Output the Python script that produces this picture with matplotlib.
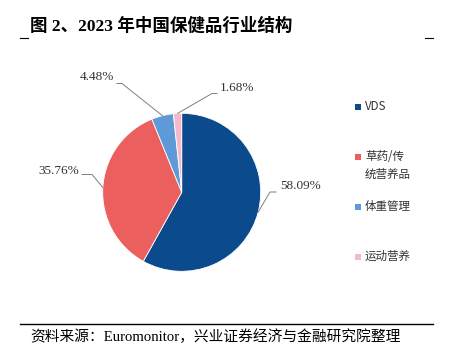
import matplotlib
matplotlib.use("Agg")
import matplotlib.pyplot as plt
from matplotlib.patches import Rectangle
import numpy as np

plt.rcParams['font.family'] = ['Noto Sans CJK SC', 'DejaVu Sans']

# data
labels = ["VDS", "草药/传\n统营养品", "体重管理", "运动营养"]
values = [58.09, 35.76, 4.48, 1.68]
pct_text = ["58.09%", "35.76%", "4.48%", "1.68%"]
colors = ["#0B4A8C", "#EC5F5F", "#5E9AD8", "#F6B8CA"]

W, H = 455, 357
fig = plt.figure(figsize=(W / 100, H / 100), dpi=100)

# pie axes placed in pixel terms
cx, cy, R = 181.7, 192.3, 79.0
ax = fig.add_axes([(cx - R) / W, (H - cy - R) / H, 2 * R / W, 2 * R / H])
wedges, _ = ax.pie(values, colors=colors, startangle=90, counterclock=False,
                   radius=1.0, wedgeprops=dict(edgecolor="white", linewidth=0.6))
ax.set_xlim(-1, 1)
ax.set_ylim(-1, 1)
ax.set_aspect("equal")
ax.axis("off")


def px(x, y):
    # pixel -> data coords of the pie axes
    return (x - cx) / R, (cy - y) / R


# elbow point and text anchor (pixels) for each label
elbows = [(270, 192), (92, 174.5), (122, 83.5), (212, 93.5)]
ends = [(276, 192), (82, 174.5), (117, 83.5), (217, 93.5)]
text_pos = [(280, 186), (79, 171), (114, 77), (220, 88)]
aligns = ["left", "right", "right", "left"]

for i, w in enumerate(wedges):
    ang = np.deg2rad((w.theta1 + w.theta2) / 2)
    x0, y0 = np.cos(ang), np.sin(ang)
    ex, ey = px(*elbows[i])
    fx, fy = px(*ends[i])
    ax.plot([x0, ex, fx], [y0, ey, fy], color="#7f7f7f", lw=0.7, clip_on=False)
    tx, ty = px(*text_pos[i])
    ax.text(tx, ty, pct_text[i], ha=aligns[i], va="center", fontsize=9.5,
            color="#333333", family=["Liberation Serif", "DejaVu Serif"])

# legend drawn by hand
for i, (lab, col) in enumerate(zip(labels, colors)):
    y = 107 + 50 * i
    fig.patches.append(Rectangle((355 / W, 1 - (y + 3) / H), 6 / W, 6 / H,
                                 transform=fig.transFigure, facecolor=col,
                                 edgecolor="none"))
    fig.text(365 / W, 1 - (y - 7) / H, lab, ha="left", va="top", fontsize=8.3,
             color="#333333", linespacing=1.45)

# title and frame lines
fig.text(30 / W, 1 - 26 / H, "图 2、2023 年中国保健品行业结构", ha="left",
         va="center", fontsize=12.6, fontweight="bold", color="black",
         family=["Liberation Serif", "Noto Sans CJK SC"])
fig.add_artist(plt.Line2D([20 / W, 28 / W], [1 - 38 / H] * 2, color="black", lw=0.8))
fig.add_artist(plt.Line2D([425 / W, 433 / W], [1 - 38 / H] * 2, color="black", lw=0.8))
fig.add_artist(plt.Line2D([20 / W, 433 / W], [1 - 324 / H] * 2, color="black", lw=1.0))

fig.text(30 / W, 1 - 337 / H, "资料来源：Euromonitor，兴业证券经济与金融研究院整理",
         ha="left", va="center", fontsize=10.6, color="black",
         family=["Liberation Serif", "Noto Sans CJK SC"])

fig.savefig("out.png", dpi=100)
